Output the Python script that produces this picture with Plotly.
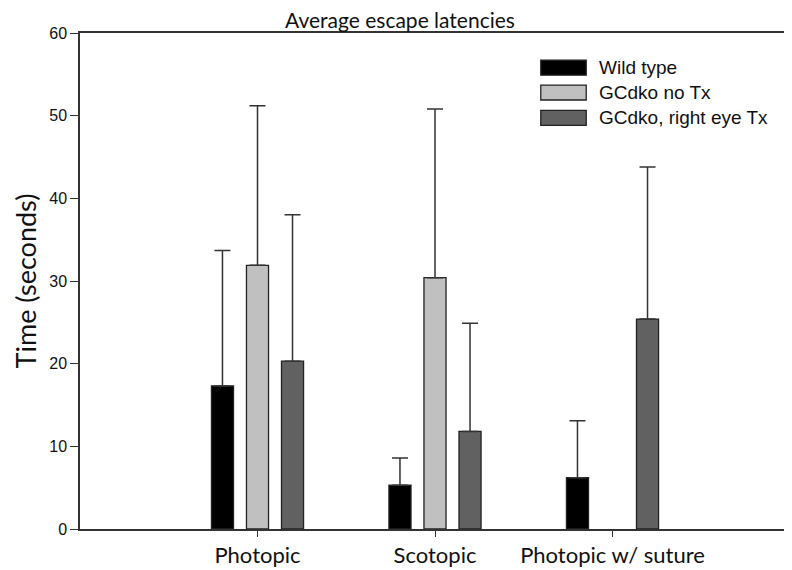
import plotly.graph_objects as go

categories = ["Photopic", "Scotopic", "Photopic w/ suture"]

wild_type = [17.3, 5.3, 6.2]
wild_type_err = [16.4, 3.3, 6.9]

gcdko_no_tx = [31.9, 30.4, None]
gcdko_no_tx_err = [19.3, 20.4, 0]

gcdko_right_tx = [20.3, 11.8, 25.4]
gcdko_right_tx_err = [17.7, 13.1, 18.4]

series = [
    ("Wild type", wild_type, wild_type_err, "#000000"),
    ("GCdko no Tx", gcdko_no_tx, gcdko_no_tx_err, "#c0c0c0"),
    ("GCdko, right eye Tx", gcdko_right_tx, gcdko_right_tx_err, "#616161"),
]

OUTLINE = "#222222"
TEXT = "#111111"

fig = go.Figure()
for name, vals, errs, color in series:
    fig.add_trace(
        go.Bar(
            name=name,
            x=categories,
            y=vals,
            marker=dict(color=color, line=dict(color=OUTLINE, width=1.3)),
            error_y=dict(
                type="data",
                symmetric=False,
                array=errs,
                arrayminus=[0] * len(errs),
                color="#333333",
                thickness=1.5,
                width=8,
            ),
            showlegend=False,
        )
    )

# legend drawn by hand: wide swatches like the original
leg_x0, leg_x1, leg_text_x = 0.649, 0.713, 0.728
leg_y = [0.930, 0.880, 0.829]
half_h = 0.0151
for (name, _, _, color), yc in zip(series, leg_y):
    fig.add_shape(
        type="rect",
        xref="paper",
        yref="paper",
        x0=leg_x0,
        x1=leg_x1,
        y0=yc - half_h,
        y1=yc + half_h,
        fillcolor=color,
        line=dict(color=OUTLINE, width=1.3),
    )
    fig.add_annotation(
        text=name,
        xref="paper",
        yref="paper",
        x=leg_text_x,
        y=yc,
        xanchor="left",
        yanchor="middle",
        showarrow=False,
        font=dict(family="Liberation Sans, Arial", size=19, color=TEXT),
    )

fig.update_layout(
    width=784,
    height=562,
    paper_bgcolor="white",
    plot_bgcolor="white",
    barmode="group",
    bargap=0.408,
    bargroupgap=0.37,
    margin=dict(l=72, r=2, t=25, b=41, autoexpand=False),
    title=dict(
        text="Average escape latencies",
        x=0.5,
        xanchor="center",
        y=0.978,
        yanchor="middle",
        font=dict(family="Lato, Open Sans", size=21, color=TEXT),
    ),
    xaxis=dict(
        range=[-1, 3],
        showline=True,
        linecolor="#333333",
        linewidth=1.5,
        mirror=True,
        ticks="outside",
        ticklen=6,
        tickcolor="#333333",
        showgrid=False,
        tickfont=dict(family="Lato, Open Sans", size=22, color=TEXT),
    ),
    yaxis=dict(
        title=dict(
            text="Time (seconds)",
            font=dict(family="Lato, Open Sans", size=27, color=TEXT),
            standoff=5,
        ),
        range=[0, 60],
        dtick=10,
        showline=True,
        linecolor="#333333",
        linewidth=1.5,
        mirror=True,
        ticks="outside",
        ticklen=8,
        tickcolor="#333333",
        showgrid=False,
        zeroline=False,
        tickfont=dict(family="Liberation Sans, Arial", size=16, color=TEXT),
    ),
)

fig.write_html("out.html")
